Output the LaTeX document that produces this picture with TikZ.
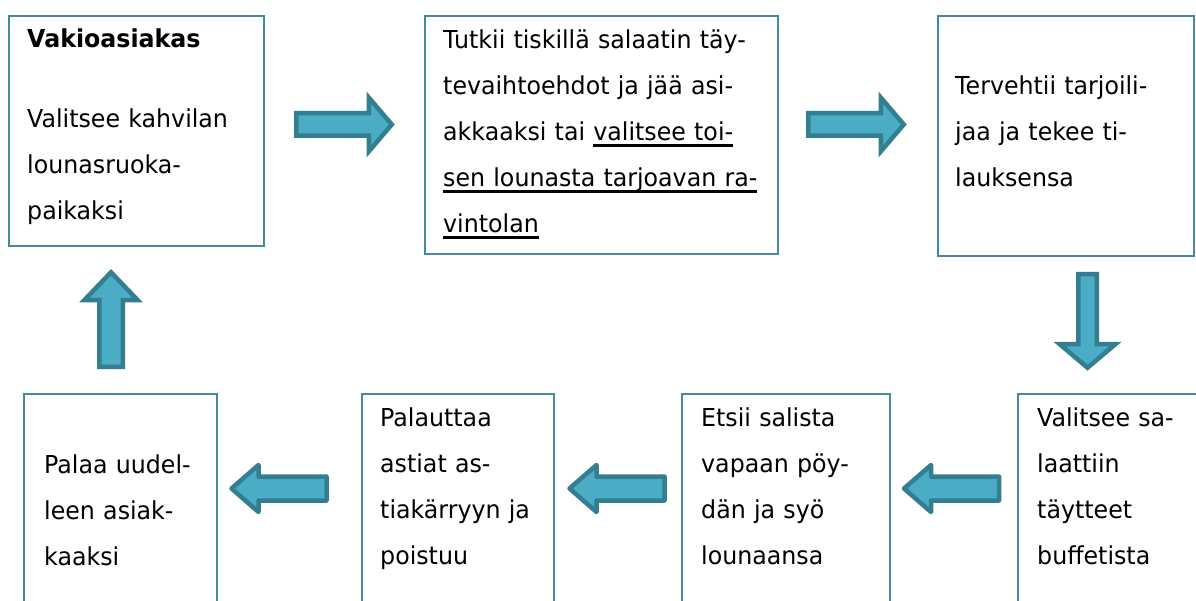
\documentclass[tikz,border=0pt]{standalone}
\usepackage{fontspec}
\setmainfont{DejaVu Sans}[FakeStretch=0.96]
\usetikzlibrary{calc}
\definecolor{boxline}{RGB}{66,139,160}
\definecolor{arrowfill}{RGB}{75,172,198}
\definecolor{arrowedge}{RGB}{52,126,146}
\newcommand{\ulin}[1]{\leavevmode\setbox0=\hbox{#1}\rlap{\rule[-5.8pt]{\wd0}{2.3pt}}\box0}
\tikzstyle{box}=[rectangle,draw=boxline,line width=2pt,anchor=north west,inner sep=0pt]
\tikzstyle{txt}=[anchor=base west,inner sep=0pt,text width=340pt,align=left,font=\fontsize{24.7pt}{46pt}\selectfont]
\tikzset{
    pics/blockarrow/.style n args={4}{code={
        \draw[fill=arrowfill,draw=arrowedge,line width=4.5pt]
            (-#1/2,-#3) -- (#1/2-#2,-#3) -- (#1/2-#2,-#4) -- (#1/2,0)
            -- (#1/2-#2,#4) -- (#1/2-#2,#3) -- (-#1/2,#3) -- cycle;
    }},
}

\begin{document}
\begin{tikzpicture}[x=1pt, y=-1pt]
    \useasboundingbox (0,0) rectangle (1196,601);
    \clip (0,0) rectangle (1196,601);
    % top row
    \node[box, minimum width=255pt, minimum height=230pt] (vakio) at (8,15) {};
    \node[box, minimum width=353pt, minimum height=238pt] (tutkii) at (424,15) {};
    \node[box, minimum width=256pt, minimum height=240pt] (tervehtii) at (937,15) {};
    % bottom row, cut by the lower edge
    \node[box, minimum width=200pt, minimum height=230pt] (valitsee) at (1017,393) {};
    \node[box, minimum width=208pt, minimum height=230pt] (etsii) at (681,393) {};
    \node[box, minimum width=192pt, minimum height=230pt] (palauttaa) at (361,393) {};
    \node[box, minimum width=193pt, minimum height=230pt] (palaa) at (23,393) {};

    \node[txt] (vakio text) at ($(vakio.north west)+(19,33)$)
        {\textbf{Vakioasiakas}\\[34pt]Valitsee kahvilan\\lounasruoka-\\paikaksi};
    \node[txt] (tutkii text) at ($(tutkii.north west)+(19,34)$)
        {Tutkii tiskillä salaatin täy-\\tevaihtoehdot ja jää asi-\\akkaaksi tai \ulin{valitsee toi-}\\\ulin{sen lounasta tarjoavan ra-}\\\ulin{vintolan}};
    \node[txt] (tervehtii text) at ($(tervehtii.north west)+(18,80)$)
        {Tervehtii tarjoili-\\jaa ja tekee ti-\\lauksensa};
    \node[txt] (valitsee text) at ($(valitsee.north west)+(20,33)$)
        {Valitsee sa-\\laattiin\\täytteet\\buffetista};
    \node[txt] (etsii text) at ($(etsii.north west)+(20,33)$)
        {Etsii salista\\vapaan pöy-\\dän ja syö\\lounaansa};
    \node[txt] (palauttaa text) at ($(palauttaa.north west)+(19,33)$)
        {Palauttaa\\astiat as-\\tiakärryyn ja\\poistuu};
    \node[txt] (palaa text) at ($(palaa.north west)+(21,80)$)
        {Palaa uudel-\\leen asiak-\\kaaksi};

    % block arrows
    \pic at (344,124.5) {blockarrow={95.5}{23}{11.25}{27}};
    \pic at (856,124.5) {blockarrow={95.5}{23}{11.25}{27}};
    \pic[rotate=-90] at (1087.5,321) {blockarrow={93.5}{23.5}{9.25}{27.75}};
    \foreach \x in {951.5,617,279} {
        \pic[rotate=180,line join=round] at (\x,488.5) {blockarrow={95}{27}{12}{23.5}};
    };
    \pic[rotate=90] at (111,319.5) {blockarrow={94.5}{28}{11.75}{26.75}};
\end{tikzpicture}
\end{document}
